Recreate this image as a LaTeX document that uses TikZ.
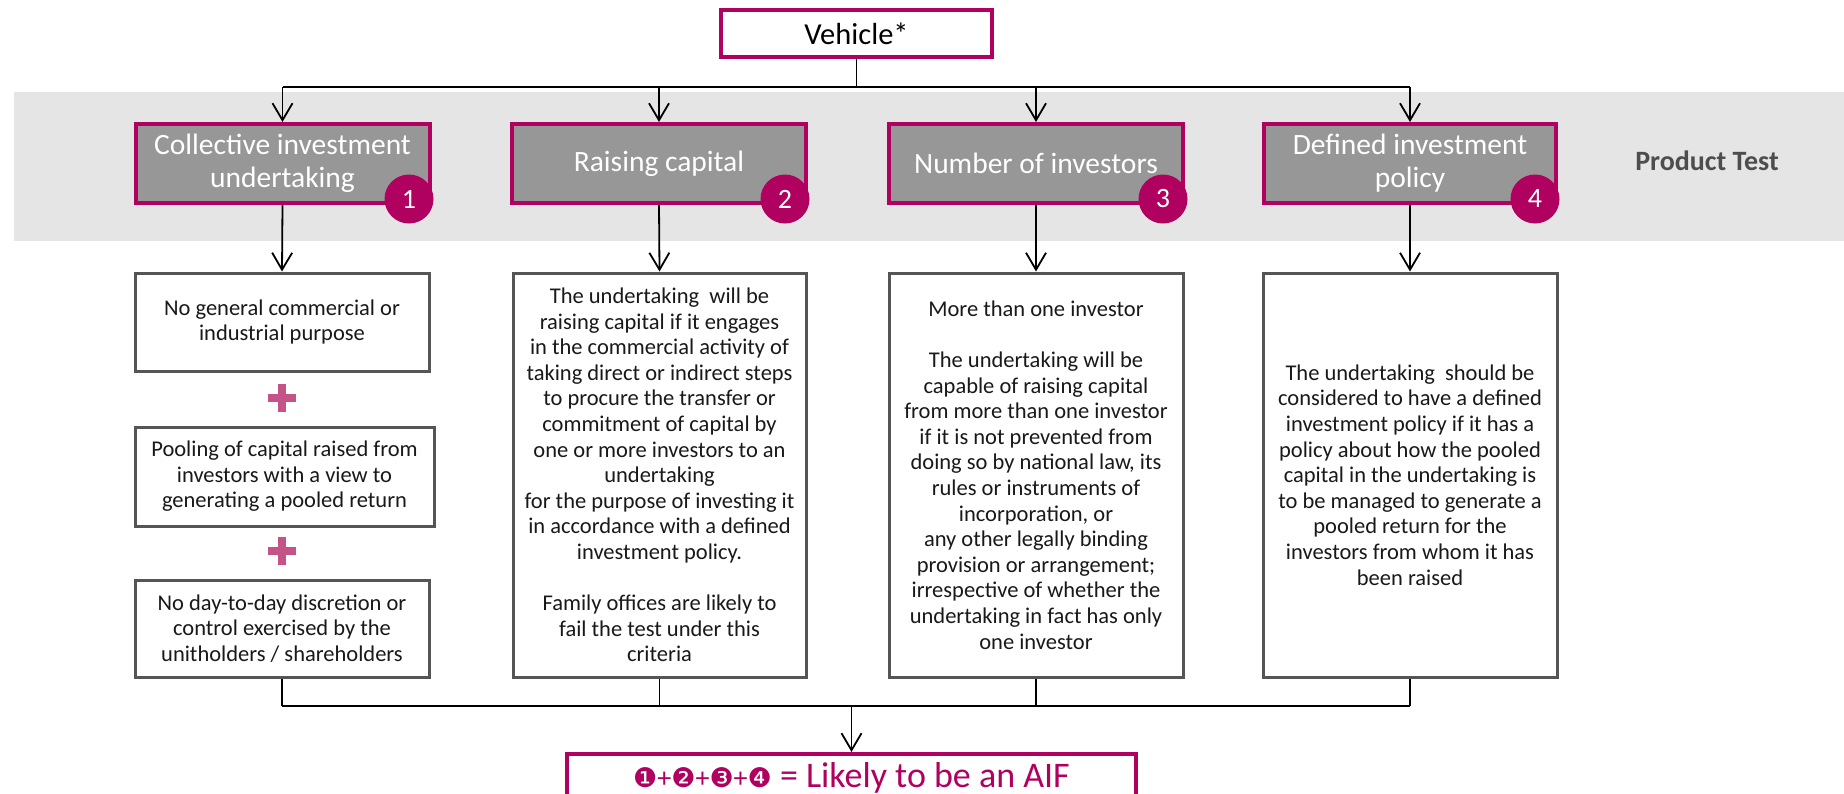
\documentclass[tikz,border=0pt]{standalone}
\usepackage{fontspec}
\setmainfont{Carlito}
\newfontfamily\dingfont{DejaVu Sans}
\usetikzlibrary{arrows.meta}

\definecolor{brandmag}{RGB}{176,0,96}
\definecolor{plusmag}{RGB}{196,84,136}
\definecolor{bandgray}{RGB}{229,229,229}
\definecolor{headgray}{RGB}{151,151,151}
\definecolor{framegray}{RGB}{85,85,85}
\definecolor{labelgray}{RGB}{77,77,77}

\newcommand{\dingnum}[1]{{\dingfont\fontsize{27}{30}\selectfont #1}}
\newcommand{\smallplus}{{\fontsize{28}{30}\selectfont +}}

\begin{document}
\begin{tikzpicture}[x=1pt,y=-1pt,
  wire/.style={line width=1.8pt, black},
  arr/.style={wire, -{Straight Barb[length=17pt,width=20pt]}},
  topbox/.style={draw=brandmag, line width=4pt, fill=white, inner sep=0pt,
    minimum width=271pt, minimum height=47pt, font=\fontsize{30.5}{34}\selectfont},
  headbox/.style={draw=brandmag, line width=4pt, fill=headgray, text=white,
    inner sep=0pt, align=center, minimum width=294pt, minimum height=79pt,
    font=\fontsize{29.5}{33}\selectfont},
  badge/.style={circle, fill=brandmag, text=white, inner sep=0pt,
    minimum size=49pt, font=\fontsize{28}{30}\selectfont},
  descbox/.style={draw=framegray, line width=3pt, fill=white, inner sep=0pt,
    align=center, minimum width=294pt, text=black!90,
    font=\fontsize{22.5}{25.6}\selectfont},
  plusmark/.style={inner sep=0pt, minimum size=27pt},
  plusstroke/.style={draw=plusmag, line width=7.5pt},
  resultbox/.style={draw=brandmag, line width=4pt, fill=white, text=brandmag,
    inner sep=0pt, minimum width=569pt, minimum height=48pt,
    font=\fontsize{36}{40}\selectfont},
  tag/.style={text=labelgray, font=\fontsize{28}{30}\selectfont\bfseries}]

\clip (0,0) rectangle (1844,793);

% product test band
\fill[bandgray] (14,92) rectangle (1844,241);
\node[tag] (ptest) at (1707,161) {Product Test};

% vehicle
\node[topbox] (veh) at (856.5,33.5) {Vehicle*};

% criteria headers
\node[headbox] (h1) at (282.5,163.5) {Collective investment\\undertaking};
\node[headbox] (h2) at (659,163.5) {Raising capital};
\node[headbox] (h3) at (1036,163.5) {Number of investors};
\node[headbox, minimum width=292pt] (h4) at (1410,163.5) {Defined investment\\policy};

\node[badge] (b1) at (409,199) {1};
\node[badge] (b2) at (785,199) {2};
\node[badge] (b3) at (1163,199) {3};
\node[badge] (b4) at (1535,199) {4};

% column 1 conditions
\node[descbox, minimum height=98pt] (d1a) at (282,322)
  {No general commercial or\\industrial purpose};
\node[plusmark] (p1) at (282,398) {};
\node[descbox, minimum width=299pt, minimum height=99pt] (d1b) at (284.5,476.5)
  {Pooling of capital raised from\\investors with a view to\\generating a pooled return};
\node[plusmark] (p2) at (282,551) {};
\node[descbox, minimum height=97pt] (d1c) at (282,628.5)
  {No day-to-day discretion or\\control exercised by the\\unitholders / shareholders};

\draw[plusstroke] (p1.west) -- (p1.east) (p1.north) -- (p1.south);
\draw[plusstroke] (p2.west) -- (p2.east) (p2.north) -- (p2.south);

% columns 2-4 explanations
\node[descbox, minimum width=293pt, minimum height=404pt] (d2) at (659.5,475)
  {The undertaking\ \ will be\\raising capital if it engages\\in the commercial activity of\\
   taking direct or indirect steps\\to procure the transfer or\\commitment of capital by\\
   one or more investors to an\\undertaking\\for the purpose of investing it\\
   in accordance with a defined\\investment policy.\\[25.6pt]
   Family offices are likely to\\fail the test under this\\criteria};
\node[descbox, minimum height=404pt] (d3) at (1036,475)
  {More than one investor\\[25.6pt]
   The undertaking will be\\capable of raising capital\\from more than one investor\\
   if it is not prevented from\\doing so by national law, its\\rules or instruments of\\
   incorporation, or\\any other legally binding\\provision or arrangement;\\
   irrespective of whether the\\undertaking in fact has only\\one investor};
\node[descbox, minimum height=404pt] (d4) at (1410,475)
  {The undertaking\ \ should be\\considered to have a defined\\investment policy if it has a\\
   policy about how the pooled\\capital in the undertaking is\\to be managed to generate a\\
   pooled return for the\\investors from whom it has\\been raised};

% conclusion
\node[resultbox, anchor=north] (res) at (851.5,752)
  {\dingnum{❶}\smallplus\dingnum{❷}\smallplus\dingnum{❸}\smallplus\dingnum{❹} = Likely to be an AIF};

% distribution from the vehicle
\coordinate (bus) at (0,87);
\draw[wire] (veh.south) -- (veh.south |- bus);
\draw[wire] (h1.north |- bus) -- (h4.north |- bus);
\foreach \h in {h1,h2,h3,h4}
  \draw[arr] (\h.north |- bus) -- (\h.north);

% headers to their conditions
\draw[arr] (h1.south) -- (d1a.north);
\draw[arr] (h2.south) -- (d2.north);
\draw[arr] (h3.south) -- (d3.north);
\draw[arr] (h4.south) -- (d4.north);

% collection into the conclusion
\coordinate (bbus) at (0,706);
\foreach \d in {d1c,d2,d3,d4}
  \draw[wire] (\d.south) -- (\d.south |- bbus);
\draw[wire] (d1c.south |- bbus) -- (d4.south |- bbus);
\draw[arr] (res.north |- bbus) -- (res.north);

\end{tikzpicture}
\end{document}
